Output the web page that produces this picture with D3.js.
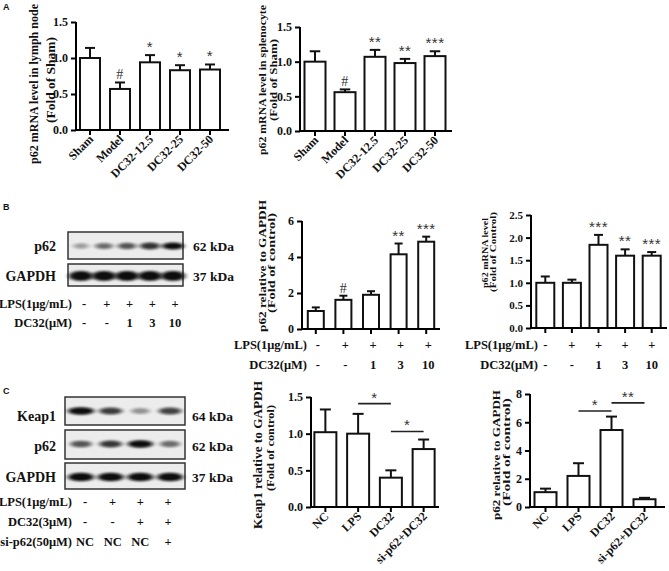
<!DOCTYPE html>
<html><head><meta charset="utf-8">
<script src="https://cdn.jsdelivr.net/npm/d3@7"></script>
<style>
body{margin:0;background:#fff}
svg text{font-family:"Liberation Serif","Times New Roman",serif;font-weight:bold;fill:#111}
</style></head><body>
<svg id="fig" width="669" height="571"></svg>
<script>
// ---------- data ----------
const aCats = ["Sham","Model","DC32-12.5","DC32-25","DC32-50"];
const lymphMean = [1.0,0.57,0.94,0.83,0.84];
const lymphErr  = [0.14,0.09,0.10,0.07,0.07];
const lymphSig  = ["","#","*","*","*"];
const splenMean = [1.0,0.56,1.07,0.98,1.08];
const splenErr  = [0.15,0.04,0.10,0.06,0.07];
const splenSig  = ["","#","**","**","***"];
const aTicks = [0,0.5,1.0,1.5];

const bLanes = ["L1","L2","L3","L4","L5"];
const bLPS  = ["-","+","+","+","+"];
const bDC32 = ["-","-","1","3","10"];
const bProtMean = [1.0,1.62,1.9,4.15,4.85];
const bProtErr  = [0.2,0.23,0.2,0.6,0.28];
const bProtSig  = ["","#","","**","***"];
const bProtTicks = [0,2,4,6];
const bMrnaMean = [1.0,1.0,1.84,1.6,1.6];
const bMrnaErr  = [0.14,0.07,0.22,0.14,0.08];
const bMrnaSig  = ["","","***","**","***"];
const bMrnaTicks = [0,0.5,1.0,1.5,2.0,2.5];
const bBlotP62   = [0.25,0.5,0.62,0.8,1.0];
const bBlotGapdh = [1,1,1,1,1];

const cCats = ["NC","LPS","DC32","si-p62+DC32"];
const cLPS  = ["-","+","+","+"];
const cDC32 = ["-","-","+","+"];
const cSi   = ["NC","NC","NC","+"];
const keapMean = [1.02,1.0,0.40,0.79];
const keapErr  = [0.31,0.27,0.10,0.13];
const keapTicks = [0,0.5,1.0,1.5];
const keapBrackets = [{a:"LPS",b:"DC32",v:1.41,t:"*"},{a:"DC32",b:"si-p62+DC32",v:1.03,t:"*"}];
const cp62Mean = [1.05,2.2,5.45,0.55];
const cp62Err  = [0.25,0.9,0.95,0.1];
const cp62Ticks = [0,2,4,6,8];
const cp62Brackets = [{a:"LPS",b:"DC32",v:6.8,t:"*"},{a:"DC32",b:"si-p62+DC32",v:7.37,t:"**"}];
const cBlotKeap  = [1.0,0.75,0.3,0.72];
const cBlotP62   = [0.62,0.78,1.0,0.5];
const cBlotGapdh = [1,1,1,1];

// ---------- helpers ----------
const svg = d3.select("#fig");
const defs = svg.append("defs");
defs.append("filter").attr("id","blur").attr("x","-50%").attr("y","-100%").attr("width","200%").attr("height","300%")
  .append("feGaussianBlur").attr("stdDeviation","2.4 1.3");

function barChart(o){
  const g = svg.append("g");
  const x = d3.scaleBand().domain(o.cats).range(o.band).padding(0);
  const y = d3.scaleLinear().domain([0,o.yMax]).range([o.y0,o.yTop]);
  const cx = c => x(c) + x.bandwidth()/2;
  const data = o.cats.map((c,i)=>({c, m:o.mean[i], e:o.err[i], s:o.sig?o.sig[i]:""}));
  g.selectAll("rect.bar").data(data).join("rect")
    .attr("x",d=>cx(d.c)-o.barW/2).attr("y",d=>y(d.m))
    .attr("width",o.barW).attr("height",d=>o.y0-y(d.m))
    .attr("fill","#fff").attr("stroke","#111").attr("stroke-width",2);
  g.selectAll("line.ev").data(data).join("line")
    .attr("x1",d=>cx(d.c)).attr("x2",d=>cx(d.c))
    .attr("y1",d=>y(d.m)).attr("y2",d=>y(d.m+d.e))
    .attr("stroke","#111").attr("stroke-width",2);
  g.selectAll("line.ec").data(data).join("line")
    .attr("x1",d=>cx(d.c)-o.barW/4).attr("x2",d=>cx(d.c)+o.barW/4)
    .attr("y1",d=>y(d.m+d.e)).attr("y2",d=>y(d.m+d.e))
    .attr("stroke","#111").attr("stroke-width",2);
  g.selectAll("text.sig").data(data.filter(d=>d.s)).join("text")
    .attr("x",d=>cx(d.c)).attr("y",d=>y(d.m+d.e)-3)
    .attr("text-anchor","middle")
    .style("font-family", d=>d.s==="#"?"Liberation Serif":"Liberation Sans")
    .style("font-weight","normal").style("fill","#333")
    .style("font-size", d=>d.s==="#"?"14px":"15px")
    .style("letter-spacing", "0.5px")
    .text(d=>d.s);
  (o.brackets||[]).forEach(b=>{
    g.append("line").attr("x1",cx(b.a)).attr("x2",cx(b.b)).attr("y1",y(b.v)).attr("y2",y(b.v))
      .attr("stroke","#222").attr("stroke-width",1.6);
    g.append("text").attr("x",(cx(b.a)+cx(b.b))/2).attr("y",y(b.v)-1).attr("text-anchor","middle")
      .style("font-family","Liberation Sans").style("font-weight","normal").style("fill","#333")
      .style("font-size","15px").style("letter-spacing","0.5px").text(b.t);
  });
  const ya = g.append("g").attr("transform",`translate(${o.x0},0)`)
    .call(d3.axisLeft(y).tickValues(o.ticks).tickFormat(d3.format(o.fmt)).tickSize(5).tickSizeOuter(0).tickPadding(3));
  ya.select(".domain").attr("stroke-width",2).attr("d",`M0,${o.y0+1}V${o.yTop}`);
  ya.selectAll(".tick line").attr("stroke-width",2);
  ya.selectAll("text").style("font-family","Liberation Serif").style("font-weight","bold").style("font-size",o.tickFs||"12px").attr("fill","#111");
  const xa = g.append("g").attr("transform",`translate(0,${o.y0})`)
    .call(d3.axisBottom(x).tickSize(5).tickSizeOuter(0).tickFormat(""));
  xa.select(".domain").attr("stroke-width",2).attr("d",`M${o.x0-1},0H${o.xEnd}`);
  xa.selectAll(".tick line").attr("stroke-width",2);
  if(o.rotLabels){
    g.selectAll("text.xl").data(o.cats).join("text")
      .attr("transform",c=>`translate(${cx(c)+4},${o.y0+10}) rotate(-45)`)
      .attr("text-anchor","end").style("font-size","12px").text(c=>c);
  }
  o.ylab.forEach(l=>{
    g.append("text").attr("transform",`translate(${l.x},${l.cy}) rotate(-90)`)
      .attr("text-anchor","middle").style("font-size",l.fs)
      .attr("textLength",l.len).attr("lengthAdjust","spacingAndGlyphs").text(l.t);
  });
  return {x, cx, y};
}

function rows(rowsDef, labelX, pos, fs){
  rowsDef.forEach(r=>{
    svg.append("text").attr("x",labelX).attr("y",r.y).attr("text-anchor","end").style("font-size",fs).text(r.label);
    svg.selectAll(null).data(r.vals).join("text")
      .attr("x",(d,i)=>pos(i)).attr("y",r.y).attr("text-anchor","middle").style("font-size",fs).text(d=>d);
  });
}

function blot(o){
  const g = svg.append("g");
  const lx = d3.scalePoint().domain(o.lanes).range(o.laneRange);
  o.strips.forEach(s=>{
    g.append("rect").attr("x",o.x).attr("y",s.y).attr("width",o.w).attr("height",s.h)
      .attr("fill","#ececec").attr("stroke","#333").attr("stroke-width",1.5);
    g.selectAll(null).data(s.vals).join("ellipse")
      .attr("cx",(d,i)=>lx(o.lanes[i])).attr("cy",s.by)
      .attr("rx",d=>s.rx*(0.6+0.4*d)).attr("ry",d=>s.ry*(0.7+0.3*d))
      .attr("fill","#0a0a0a").attr("opacity",d=>0.15+0.85*d).attr("filter","url(#blur)");
    g.append("text").attr("x",o.labelX).attr("y",s.ly).attr("text-anchor","end").style("font-size","14px").text(s.name);
    g.append("text").attr("x",o.kdX).attr("y",s.ly).style("font-size","13.5px").text(s.kda);
  });
  return lx;
}

// ---------- panel letters ----------
[["A",3,10],["B",3,210],["C",3,394]].forEach(([t,x,y])=>
  svg.append("text").attr("x",x).attr("y",y).style("font-family","Liberation Sans").style("font-size","9px").text(t));

// ---------- panel A ----------
barChart({cats:aCats, mean:lymphMean, err:lymphErr, sig:lymphSig, ticks:aTicks, fmt:".1f",
  x0:76, xEnd:229, band:[75,225], y0:130, yTop:22, yMax:1.5, barW:20, rotLabels:true,
  ylab:[{t:"p62 mRNA level in lymph node",x:38,cy:84,len:160,fs:"12px"},{t:"(Fold of Sham)",x:55,cy:80,len:86,fs:"12px"}]});
barChart({cats:aCats, mean:splenMean, err:splenErr, sig:splenSig, ticks:aTicks, fmt:".1f",
  x0:300, xEnd:452, band:[300,450], y0:131, yTop:27, yMax:1.5, barW:21, rotLabels:true,
  ylab:[{t:"p62 mRNA level in splenocyte",x:266,cy:80,len:150,fs:"10.5px"},{t:"(Fold of Sham)",x:277,cy:80,len:82,fs:"10.5px"}]});

// ---------- panel B ----------
blot({x:68, w:115, lanes:bLanes, laneRange:[81,173], labelX:56, kdX:193,
  strips:[{name:"p62",kda:"62 kDa",y:232,h:27,by:246,ly:251,rx:11,ry:3.6,vals:bBlotP62},
          {name:"GAPDH",kda:"37 kDa",y:264,h:22,by:276,ly:281,rx:12,ry:5,vals:bBlotGapdh}]});
rows([{label:"LPS(1μg/mL)",vals:bLPS,y:308},{label:"DC32(μM)",vals:bDC32,y:327}],72,
  i=>d3.scalePoint().domain(d3.range(5)).range([84,175])(i),"12.5px");

const bm = barChart({cats:bLanes, mean:bProtMean, err:bProtErr, sig:bProtSig, ticks:bProtTicks, fmt:"d",
  x0:302, xEnd:440, band:[302,440], y0:329, yTop:221, yMax:6, barW:16,
  ylab:[{t:"p62 relative to GAPDH",x:266,cy:266,len:132,fs:"10px"},{t:"(Fold of control)",x:275,cy:263,len:100,fs:"10px"}]});
rows([{label:"LPS(1μg/mL)",vals:bLPS,y:349},{label:"DC32(μM)",vals:bDC32,y:369}],307,i=>bm.cx(bLanes[i])+2,"12.5px");

const br = barChart({cats:bLanes, mean:bMrnaMean, err:bMrnaErr, sig:bMrnaSig, ticks:bMrnaTicks, fmt:".1f",
  x0:531, xEnd:667, band:[532,665], y0:328, yTop:215, yMax:2.5, barW:18, tickFs:"11px",
  ylab:[{t:"p62 mRNA level",x:487.5,cy:253,len:70,fs:"9px"},{t:"(Fold of Control)",x:496,cy:252,len:80,fs:"9px"}]});
rows([{label:"LPS(1μg/mL)",vals:bLPS,y:349},{label:"DC32(μM)",vals:bDC32,y:369}],538,i=>br.cx(bLanes[i]),"12.5px");

// ---------- panel C ----------
blot({x:65, w:120, lanes:cCats, laneRange:[81,170], labelX:56, kdX:192,
  strips:[{name:"Keap1",kda:"64 kDa",y:397,h:28,by:411,ly:421,rx:13,ry:3.8,vals:cBlotKeap},
          {name:"p62",kda:"62 kDa",y:430,h:29,by:444,ly:451,rx:12.5,ry:3.8,vals:cBlotP62},
          {name:"GAPDH",kda:"37 kDa",y:463,h:26,by:477,ly:482,rx:13,ry:4.3,vals:cBlotGapdh}]});
rows([{label:"LPS(1μg/mL)",vals:cLPS,y:506},{label:"DC32(3μM)",vals:cDC32,y:526},{label:"si-p62(50μM)",vals:cSi,y:546}],72,
  i=>d3.scalePoint().domain(d3.range(4)).range([85,168])(i),"12.5px");

barChart({cats:cCats, mean:keapMean, err:keapErr, ticks:keapTicks, fmt:".1f", brackets:keapBrackets,
  x0:311, xEnd:439, band:[309,440], y0:507, yTop:397, yMax:1.5, barW:22, rotLabels:true,
  ylab:[{t:"Keap1 relative to GAPDH",x:262,cy:455,len:148,fs:"12px"},{t:"(Fold of control)",x:274,cy:448,len:86,fs:"11px"}]});
barChart({cats:cCats, mean:cp62Mean, err:cp62Err, ticks:cp62Ticks, fmt:"d", brackets:cp62Brackets,
  x0:530, xEnd:665, band:[529,661], y0:507, yTop:394, yMax:8, barW:22, rotLabels:true,
  ylab:[{t:"p62 relative to GAPDH",x:500,cy:455,len:130,fs:"10px"},{t:"(Fold of control)",x:510,cy:452,len:108,fs:"10px"}]});
</script>
</body></html>
